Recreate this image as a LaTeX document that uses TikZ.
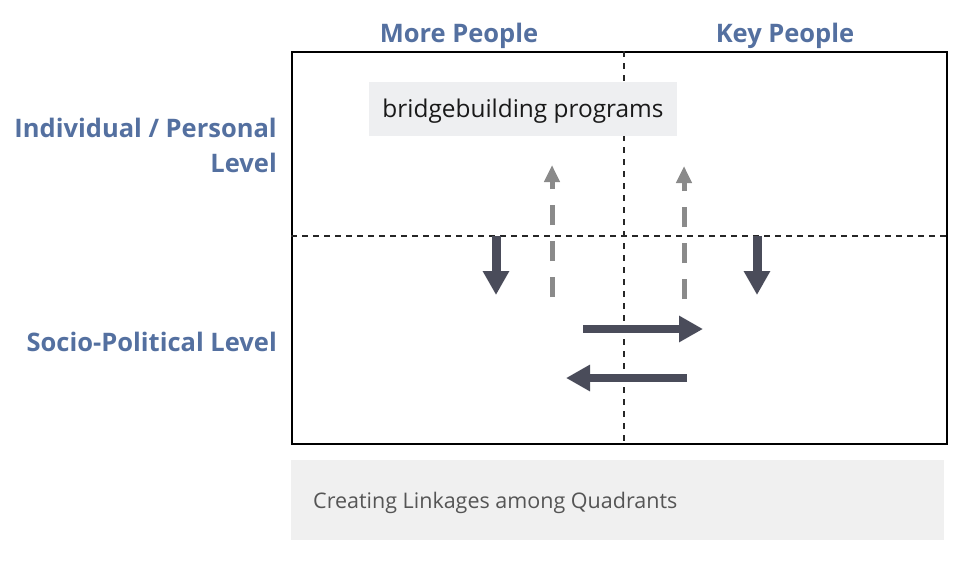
\documentclass[tikz,border=0pt]{standalone}
\usepackage{fontspec}
\setmainfont{Open Sans}
\usetikzlibrary{arrows.meta}
\definecolor{lblue}{RGB}{84,112,160}
\definecolor{darr}{RGB}{74,76,90}
\definecolor{garr}{RGB}{138,138,138}
\definecolor{boxg}{RGB}{238,239,241}
\definecolor{capg}{RGB}{240,240,240}
\definecolor{capt}{RGB}{85,85,85}
\begin{document}
\begin{tikzpicture}[x=1pt,y=-1pt,
  lbl/.style={text=lblue,font=\fontsize{25.5}{30}\selectfont\bfseries,inner sep=0pt},
  darrow/.style={draw=darr,line width=9pt,-{Triangle[length=24pt,width=25pt]}},
  harrow/.style={draw=darr,line width=8pt,-{Triangle[length=24pt,width=25pt]}},
  garrow/.style={draw=garr,line width=5pt,dash pattern=on 20pt off 16pt,-{Triangle[length=17pt,width=15pt]}},
  divline/.style={draw=black!85,line width=2.2pt}]
\useasboundingbox (0,0) rectangle (980,571);
% caption box
\node[fill=capg,minimum width=653pt,minimum height=80pt,anchor=north west,inner sep=0pt] (cap) at (291,460) {};
\node[anchor=west,text=capt,font=\fontsize{21.5}{25}\selectfont,inner sep=0pt] (capt) at (313,503) {Creating Linkages among Quadrants};
% main frame
\node[draw=black,line width=2pt,minimum width=655pt,minimum height=392pt,anchor=north west,inner sep=0pt] (frame) at (291,51) {};
% divider lines
\coordinate (vt) at (624,51);
\coordinate (vb) at (624,443);
\coordinate (hl) at (291,236);
\coordinate (hr) at (946,236);
\draw[divline,dash pattern=on 6pt off 6pt] (vt) -- (vb);
\draw[divline,dash pattern=on 6pt off 5pt] (hl) -- (hr);
% bridgebuilding box
\node[fill=boxg,minimum width=308pt,minimum height=54pt,inner sep=0pt,anchor=north west] (bb) at (369,82) {};
\node[font=\fontsize{24.4}{28}\selectfont,text=black!90,inner sep=0pt] (bbt) at (523,111) {bridgebuilding programs};
% column labels
\node[lbl] (more) at (459,36) {More People};
\node[lbl] (key) at (785,36) {Key People};
% row labels
\node[lbl,anchor=east] (ind1) at (277,128) {Individual / Personal};
\node[lbl,anchor=east] (ind2) at (277,163) {Level};
\node[lbl,anchor=east] (soc) at (277,342) {Socio-Political Level};
% arrows
\coordinate (d1s) at (496,236); \coordinate (d1e) at (496,295);
\coordinate (d2s) at (757,236); \coordinate (d2e) at (757,295);
\coordinate (u1s) at (552,297); \coordinate (u1e) at (552,165);
\coordinate (u2s) at (684,299); \coordinate (u2e) at (684,166);
\coordinate (r1s) at (583,329); \coordinate (r1e) at (703,329);
\coordinate (l1s) at (687,378); \coordinate (l1e) at (566,378);
\draw[darrow] (d1s) -- (d1e);
\draw[darrow] (d2s) -- (d2e);
\draw[garrow] (u1s) -- (u1e);
\draw[garrow] (u2s) -- (u2e);
\draw[harrow] (r1s) -- (r1e);
\draw[harrow] (l1s) -- (l1e);
\end{tikzpicture}
\end{document}
